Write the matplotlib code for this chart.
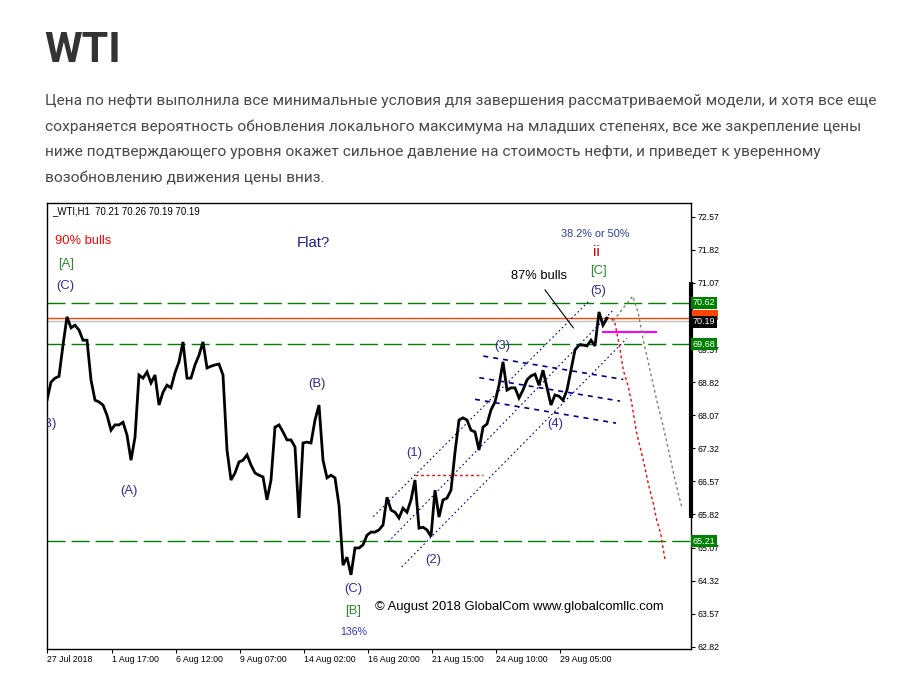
import matplotlib
matplotlib.use("Agg")
import matplotlib.pyplot as plt
from matplotlib.patches import Rectangle
import numpy as np

plt.rcParams['font.family'] = ['Liberation Sans', 'DejaVu Sans']

W, H = 913, 676

# --- data: H1 closes, one value every 4 bars ---
BAR_STEP = 4
closes = [68.41, 68.82, 68.91, 68.95, 69.66, 70.30, 70.05, 70.11, 70.00, 69.77,
          69.77, 68.87, 68.41, 68.37, 68.30, 68.07, 67.73, 67.85, 67.85, 67.91,
          67.62, 67.05, 67.57, 68.98, 68.91, 69.05, 68.80, 68.98, 68.30, 68.59,
          68.75, 68.69, 69.03, 69.28, 69.73, 68.91, 68.91, 69.21, 69.43, 69.73,
          69.14, 69.18, 69.21, 69.23, 68.98, 67.28, 66.60, 66.76, 67.01, 67.05,
          67.17, 66.94, 66.76, 66.71, 66.67, 66.15, 66.60, 67.80, 67.85, 67.69,
          67.51, 67.51, 67.35, 65.74, 67.44, 67.46, 67.44, 67.96, 68.30, 67.05,
          66.65, 66.71, 66.65, 66.03, 64.67, 64.85, 64.45, 65.06, 65.06, 65.13,
          65.35, 65.42, 65.42, 65.47, 65.58, 66.21, 65.92, 65.87, 65.74, 65.96,
          65.87, 66.15, 66.60, 65.51, 65.53, 65.47, 65.32, 66.37, 65.76, 66.15,
          66.19, 66.37, 67.23, 67.96, 68.01, 67.96, 67.73, 67.69, 67.28, 67.80,
          67.87, 68.19, 68.37, 68.75, 69.28, 68.64, 68.69, 68.69, 68.46, 68.64,
          68.87, 68.96, 69.00, 68.75, 69.09, 68.69, 68.30, 68.53, 68.50, 68.41,
          68.64, 69.09, 69.55, 69.66, 69.66, 69.64, 69.77, 69.64, 70.41, 70.11,
          70.27]

xtick_bars = [0, 65, 129, 193, 257, 321, 385, 449, 513]
xtick_labels = ["27 Jul 2018", "1 Aug 17:00", "6 Aug 12:00", "9 Aug 07:00",
                "14 Aug 02:00", "16 Aug 20:00", "21 Aug 15:00", "24 Aug 10:00",
                "29 Aug 05:00"]
yticks = [72.57, 71.82, 71.07, 70.32, 69.57, 68.82, 68.07, 67.32, 66.57,
          65.82, 65.07, 64.32, 63.57, 62.82]
hidden_ticks = [70.32]   # covered by the price boxes

levels_green = [70.62, 69.68, 65.21]
ask_level = 70.28
bid_level = 70.20
last_close = 70.19

# channel (dotted, rising): (bar0, price0, bar1, price1)
channel = [(326.3, 65.77, 543.0, 70.68),
           (341.3, 65.20, 566.0, 70.45),
           (354.7, 64.63, 579.7, 69.81)]
# fan lines (dashed, falling)
fan = [(436.3, 69.41, 576.3, 68.88),
       (432.3, 68.92, 573.0, 68.39),
       (428.0, 68.43, 569.0, 67.89)]
# forecast paths
red_bars = [564.7, 568, 572.3, 574.7, 576.3, 581.3, 584.7, 589.7, 596.3, 601.3, 606.3, 609.7, 613.7, 618]
red_prices = [70.27, 70.15, 69.66, 69.32, 69.09, 68.72, 68.34, 67.66, 67.05, 66.52, 66.07, 65.69, 65.39, 64.79]
gray_bars = [566.3, 585.7, 591.3, 596.3, 603, 609.7, 616.3, 623, 628, 634.7]
gray_prices = [70.21, 70.77, 70.38, 69.77, 69.09, 68.41, 67.81, 67.13, 66.60, 65.99]

fig = plt.figure(figsize=(W / 100, H / 100), dpi=100)
fig.patch.set_facecolor("white")

def ptext(px, py, s, **kw):
    fig.text(px / W, 1 - py / H, s, **kw)

# page header
ptext(44, 51, "WTI", fontsize=31, fontweight="bold", color="#333333",
      family=["Roboto", "DejaVu Sans"], va="center", ha="left")
para = ["Цена по нефти выполнила все минимальные условия для завершения рассматриваемой модели, и хотя все еще",
        "сохраняется вероятность обновления локального максимума на младших степенях, все же закрепление цены",
        "ниже подтверждающего уровня окажет сильное давление на стоимость нефти, и приведет к уверенному",
        "возобновлению движения цены вниз."]
for i, line in enumerate(para):
    ptext(45, 101 + i * 25.7, line, fontsize=11.15, color="#4a4a4a",
          family=["Roboto", "DejaVu Sans"], va="center", ha="left")

# chart axes
ax = fig.add_axes([47 / W, 1 - 649 / H, 644 / W, 446 / H])
ax.set_xlim(0, 644)
ax.set_ylim(62.77, 72.88)
for s in ax.spines.values():
    s.set_linewidth(1.0)
    s.set_color("black")

ax.yaxis.tick_right()
ax.set_yticks(yticks)
ax.set_yticklabels(["" if v in hidden_ticks else f"{v:.2f}" for v in yticks])
ax.tick_params(axis="y", direction="out", length=3, width=0.8, labelsize=6.3, pad=1.5)
ax.set_xticks(xtick_bars)
ax.set_xticklabels(xtick_labels, ha="left")
ax.tick_params(axis="x", direction="out", length=3, width=0.8, labelsize=6.3, pad=1.5)

# levels
for lv in levels_green:
    ax.axhline(lv, color="#008000", lw=1.0, dashes=(13, 4.3), zorder=2)
ax.axhline(ask_level, color="#ff4500", lw=1.0, zorder=2)
ax.axhline(bid_level, color="#c0c0c0", lw=1.0, zorder=2)

# price series
x = np.arange(len(closes)) * BAR_STEP
ax.plot(x, closes, color="black", lw=2.0, zorder=3, solid_joinstyle="miter")

# channel & fan
for b0, p0, b1, p1 in channel:
    ax.plot([b0, b1], [p0, p1], color="#00008b", lw=0.8, ls=(0, (1.5, 2.5)), zorder=4)
for b0, p0, b1, p1 in fan:
    ax.plot([b0, b1], [p0, p1], color="#00008b", lw=1.2, ls=(0, (3, 3)), zorder=4)

# marks
ax.plot([368, 436.3], [66.71, 66.71], color="#ff0000", lw=1.0, ls=(0, (2, 2)), zorder=4)
ax.plot([555.7, 609], [69.96, 69.96], color="#ff00ff", lw=1.5, zorder=4)
ax.plot([498, 526.3], [70.91, 70.05], color="black", lw=0.8, zorder=4)
ax.plot(red_bars, red_prices, color="#ff0000", lw=1.0, ls=(0, (2, 2)), zorder=4)
ax.plot(gray_bars, gray_prices, color="#808080", lw=1.0, ls=(0, (2, 2)), zorder=4)

# thick bar on the price scale
ax.plot([643.5, 643.5], [71.10, 65.73], color="black", lw=3.0, clip_on=False,
        solid_capstyle="butt", zorder=6)

# price boxes on the right
def pbox(val, fc):
    ax.text(1.003, val, f"{val:.2f}", transform=ax.get_yaxis_transform(),
            fontsize=6.5, color="white", va="center", ha="left", zorder=7,
            bbox=dict(boxstyle="square,pad=0.18", fc=fc, ec="none"), clip_on=False)

# ask box peeks out above the last-price box
ax.add_patch(Rectangle((1.002, ask_level - 0.06), 0.040, 0.24,
                       transform=ax.get_yaxis_transform(), fc="#ff4500", ec="none",
                       clip_on=False, zorder=6))
pbox(last_close, "black")
for lv in levels_green:
    pbox(lv, "#008000")

# labels
NAVY = "#2e2e92"
GREEN = "#2d8a2d"
ptext(52, 211, "_WTI,H1  70.21 70.26 70.19 70.19", fontsize=6.9, color="black", va="center", ha="left")
ptext(55, 241, "90% bulls", fontsize=9.3, color="#ff0000", va="center", ha="left")
ptext(66, 264, "[A]", fontsize=9.4, color=GREEN, va="center", ha="center")
ptext(65.7, 286, "(C)", fontsize=9.4, color=NAVY, va="center", ha="center")
ptext(313, 243, "Flat?", fontsize=10.7, color="#1c1c8c", va="center", ha="center")
ax.text(10, 67.87, "(B)", fontsize=9.4, color=NAVY, va="center", ha="right", clip_on=True)
ptext(129.3, 491, "(A)", fontsize=9.4, color=NAVY, va="center", ha="center")
ptext(317.3, 384, "(B)", fontsize=9.4, color=NAVY, va="center", ha="center")
ptext(353.3, 589, "(C)", fontsize=9.4, color=NAVY, va="center", ha="center")
ptext(353.3, 611, "[B]", fontsize=9.4, color=GREEN, va="center", ha="center")
ptext(353.3, 632, "136%", fontsize=7.6, color="#3333cc", va="center", ha="center")
ptext(414.3, 453, "(1)", fontsize=9.4, color=NAVY, va="center", ha="center")
ptext(433.3, 560, "(2)", fontsize=9.4, color=NAVY, va="center", ha="center")
ptext(502.7, 346, "(3)", fontsize=9.4, color=NAVY, va="center", ha="center")
ptext(555, 424, "(4)", fontsize=9.4, color=NAVY, va="center", ha="center")
ptext(598.3, 291, "(5)", fontsize=9.4, color=NAVY, va="center", ha="center")
ptext(598.3, 271, "[C]", fontsize=9.4, color=GREEN, va="center", ha="center")
ptext(596.7, 252, "ii", fontsize=11, color="#cc0000", va="center", ha="center")
ptext(595, 234, "38.2% or 50%", fontsize=7.8, color="#2a3c9c", va="center", ha="center")
ptext(539.3, 276, "87% bulls", fontsize=9.3, color="black", va="center", ha="center")
ptext(375, 607, "© August 2018 GlobalCom www.globalcomllc.com", fontsize=9.4,
      color="black", va="center", ha="left")

fig.savefig("out.png", dpi=100, facecolor="white")
